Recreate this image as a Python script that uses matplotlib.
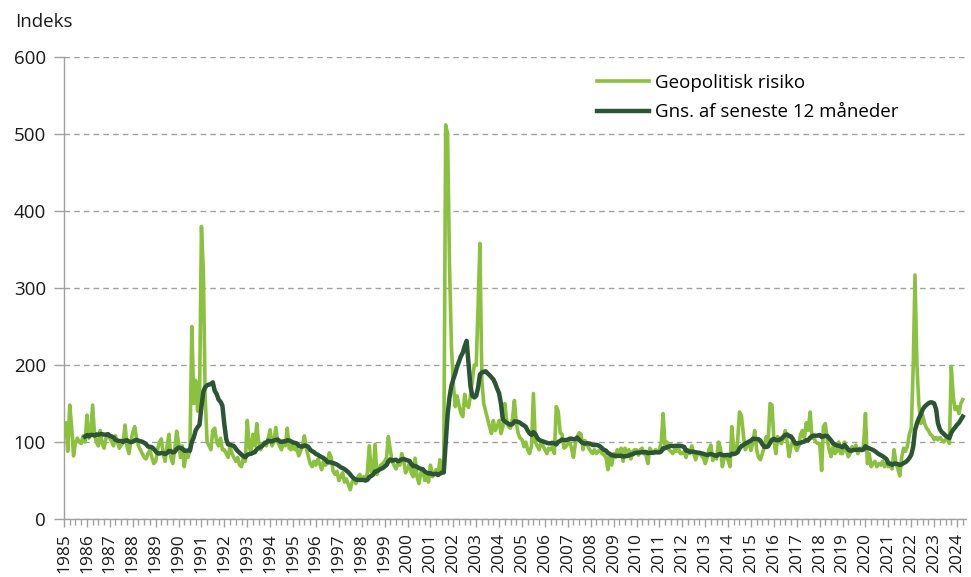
import numpy as np
import pandas as pd
import matplotlib
matplotlib.use("Agg")
from matplotlib import pyplot as plt
import matplotlib.dates as mdates

plt.rcParams['font.family'] = ['Open Sans', 'DejaVu Sans']

# monthly geopolitical risk index, Jan 1985 - Apr 2024
gpr_by_year = {
    1985: [110, 125, 88, 148, 120, 82, 100, 105, 100, 98, 108, 100],
    1986: [135, 105, 110, 148, 110, 100, 95, 115, 98, 92, 105, 110],
    1987: [105, 100, 95, 108, 100, 92, 96, 100, 122, 95, 85, 100],
    1988: [112, 120, 105, 95, 90, 85, 80, 78, 85, 90, 80, 72],
    1989: [75, 90, 100, 104, 85, 75, 95, 110, 80, 72, 90, 114],
    1990: [100, 80, 95, 68, 85, 80, 90, 250, 150, 180, 140, 150],
    1991: [380, 320, 160, 100, 95, 90, 115, 118, 100, 95, 105, 90],
    1992: [90, 85, 80, 95, 85, 80, 75, 80, 70, 68, 80, 75],
    1993: [128, 95, 85, 110, 95, 124, 100, 90, 95, 100, 95, 105],
    1994: [116, 95, 100, 119, 100, 95, 90, 100, 95, 118, 92, 90],
    1995: [98, 90, 92, 82, 88, 95, 108, 92, 82, 72, 68, 75],
    1996: [70, 78, 72, 64, 75, 70, 72, 86, 80, 62, 58, 62],
    1997: [50, 55, 60, 48, 52, 45, 38, 48, 52, 46, 55, 58],
    1998: [52, 55, 50, 60, 95, 62, 58, 97, 58, 65, 70, 72],
    1999: [75, 80, 107, 90, 75, 70, 65, 72, 70, 85, 75, 60],
    2000: [65, 72, 60, 55, 79, 55, 46, 60, 65, 50, 55, 48],
    2001: [70, 55, 60, 64, 57, 77, 60, 65, 512, 500, 330, 225],
    2002: [175, 146, 160, 148, 138, 133, 162, 148, 145, 160, 180, 200],
    2003: [200, 280, 358, 180, 150, 140, 130, 120, 111, 128, 115, 120],
    2004: [128, 111, 120, 150, 128, 120, 118, 130, 154, 125, 111, 105],
    2005: [103, 94, 100, 90, 85, 95, 163, 100, 95, 90, 100, 95],
    2006: [90, 85, 92, 90, 94, 85, 146, 140, 112, 110, 92, 94],
    2007: [98, 100, 92, 80, 98, 107, 112, 110, 90, 102, 98, 92],
    2008: [88, 85, 90, 85, 88, 90, 85, 83, 80, 64, 85, 70],
    2009: [85, 80, 90, 83, 92, 75, 92, 85, 90, 78, 88, 90],
    2010: [90, 83, 90, 92, 85, 83, 72, 92, 88, 85, 90, 88],
    2011: [90, 100, 137, 95, 100, 90, 88, 85, 90, 88, 92, 85],
    2012: [85, 88, 80, 90, 85, 95, 85, 77, 85, 86, 82, 80],
    2013: [72, 80, 90, 96, 76, 82, 78, 100, 92, 68, 80, 82],
    2014: [76, 68, 120, 90, 85, 100, 139, 135, 110, 90, 95, 100],
    2015: [89, 100, 115, 90, 80, 77, 85, 94, 107, 100, 150, 148],
    2016: [103, 85, 107, 100, 98, 105, 115, 100, 81, 95, 103, 95],
    2017: [89, 95, 110, 115, 105, 125, 115, 139, 105, 105, 100, 98],
    2018: [98, 63, 120, 124, 103, 90, 81, 94, 85, 88, 100, 85],
    2019: [85, 100, 90, 81, 85, 94, 90, 96, 85, 92, 90, 95],
    2020: [137, 72, 85, 68, 72, 75, 68, 72, 70, 75, 68, 72],
    2021: [68, 70, 65, 90, 72, 65, 56, 80, 92, 88, 95, 110],
    2022: [118, 198, 317, 200, 150, 124, 135, 124, 118, 115, 110, 108],
    2023: [103, 106, 103, 106, 103, 100, 103, 106, 98, 198, 159, 142],
    2024: [146, 137, 150, 155],
}

gpr = [v for yr in sorted(gpr_by_year) for v in gpr_by_year[yr]]
dates = pd.date_range('1985-01-01', periods=len(gpr), freq='MS')
s = pd.Series(gpr, index=dates)
avg12 = s.rolling(12).mean()

light = '#8bc13f'
dark = '#2c5535'
grey = '#a0a0a0'

fig = plt.figure(figsize=(9.71, 5.77), dpi=100)
ax = fig.add_axes([0.066, 0.1005, 0.929, 0.8005])

ax.plot(s.index, s.values, color=light, lw=2.6, label='Geopolitisk risiko', zorder=3)
ax.plot(avg12.index, avg12.values, color=dark, lw=3.2, label='Gns. af seneste 12 måneder', zorder=4)

ax.set_ylim(0, 600)
ax.set_yticks(range(0, 601, 100))
ax.set_xlim(pd.Timestamp('1985-01-01'), pd.Timestamp('2024-05-25'))
ax.xaxis.set_major_locator(mdates.YearLocator())
ax.xaxis.set_major_formatter(mdates.DateFormatter('%Y'))
ax.xaxis.set_minor_locator(mdates.MonthLocator(bymonth=[1, 4, 7, 10]))
plt.setp(ax.get_xticklabels(), rotation=90, ha='center', va='top')

ax.grid(axis='y', color=grey, ls=(0, (4, 3)), lw=1.0)
for sp in ['top', 'right']:
    ax.spines[sp].set_visible(False)
for sp in ['left', 'bottom']:
    ax.spines[sp].set_color(grey)
    ax.spines[sp].set_linewidth(1.0)
ax.tick_params(axis='y', colors=grey, labelcolor='#1a1a1a', labelsize=13.5, length=7, width=1.0, pad=6)
ax.tick_params(axis='x', which='major', colors=grey, labelcolor='#1a1a1a', labelsize=12.5,
               length=6, width=1.0, pad=4)
ax.tick_params(axis='x', which='minor', length=4, width=1.0, colors=grey)

fig.text(0.016, 0.962, 'Indeks', fontsize=13.5, color='#1a1a1a', va='center')

ax.legend(loc='upper left', bbox_to_anchor=(0.572, 1.0), frameon=False,
          fontsize=13.5, handlelength=2.8, handletextpad=0.3, labelspacing=0.6)

fig.savefig('out.png', dpi=100)
